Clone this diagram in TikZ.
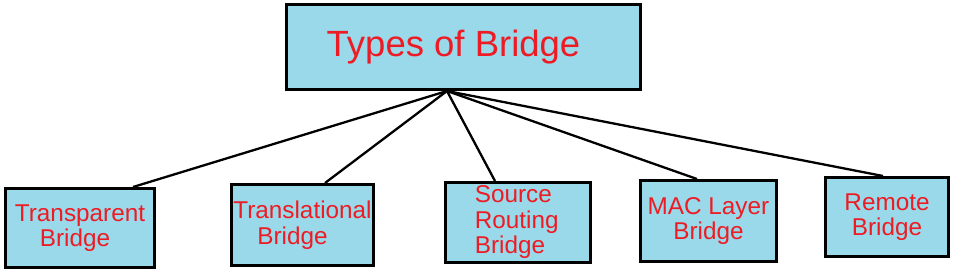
\documentclass[tikz,border=0pt]{standalone}
\usepackage{fontspec}
\setmainfont{Liberation Sans}
\usepackage{tikz}
\usepackage{xcolor}
\definecolor{brsky}{RGB}{153,217,234}
\definecolor{brred}{RGB}{237,28,36}
\tikzset{
  headnode/.style={rectangle,draw=black,line width=3pt,fill=brsky,text=brred,
    minimum width=354pt,minimum height=85pt,inner sep=0pt,
    font=\fontsize{36.5}{40}\selectfont},
  typenode/.style={rectangle,draw=black,line width=3pt,fill=brsky,text=brred,
    inner sep=0pt,align=center,font=\fontsize{24.3}{25.5}\selectfont},
  linkline/.style={line width=2.3pt,draw=black}
}

\begin{document}
\begin{tikzpicture}[x=1pt,y=-1pt]
  \useasboundingbox (0,0) rectangle (967,277);
  \node[headnode] (head) at (463.5,47) {\hspace*{-20pt}Types of Bridge};
  \node[typenode,minimum width=149pt,minimum height=79pt] (transp) at (80,228)
    {Transparent\\Bridge\hspace*{10pt}};
  \node[typenode,minimum width=142pt,minimum height=81pt] (transl) at (302.5,225)
    {Translational\\Bridge\hspace*{20pt}};
  \node[typenode,minimum width=145pt,minimum height=80pt,align=left] (srcrt) at (518,222.5)
    {Source\\Routing\\Bridge\hspace*{16pt}};
  \node[typenode,minimum width=136pt,minimum height=81pt] (maclay) at (708.5,221)
    {MAC Layer\\Bridge};
  \node[typenode,minimum width=123pt,minimum height=79pt] (remote) at (887,217)
    {Remote\\Bridge};
  \coordinate (hub) at ([xshift=-16.5pt]head.south);
  \draw[linkline] (hub) -- ([xshift=53pt]transp.north);
  \draw[linkline] (hub) -- ([xshift=22.5pt]transl.north);
  \draw[linkline] (hub) -- ([xshift=-23pt]srcrt.north);
  \draw[linkline] (hub) -- ([xshift=-11.5pt]maclay.north);
  \draw[linkline] (hub) -- ([xshift=-4pt]remote.north);
\end{tikzpicture}
\end{document}
